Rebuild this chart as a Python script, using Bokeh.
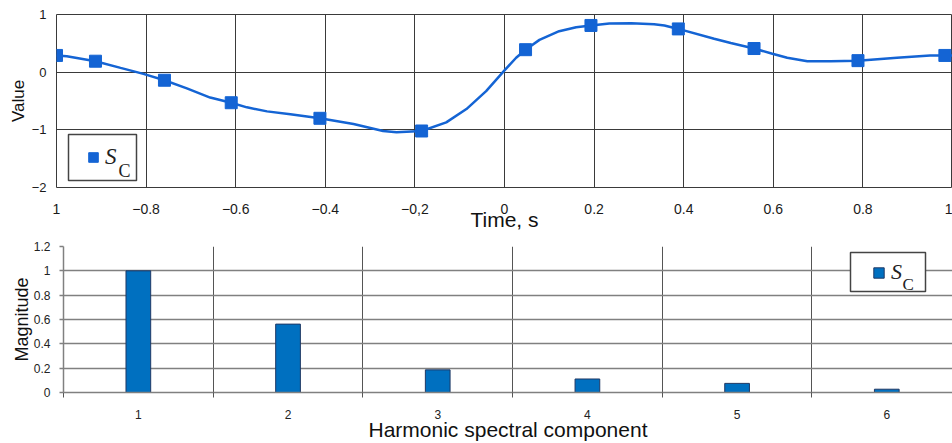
from bokeh.plotting import figure
from bokeh.models import FixedTicker, Legend, LegendItem, BoxAnnotation, Label
from bokeh.embed import file_html
from bokeh.resources import INLINE

# ---------------- data ----------------
# smooth signal curve
t_curve = [-1.0, -0.977, -0.913, -0.857, -0.806, -0.759, -0.709, -0.657, -0.610,
           -0.575, -0.530, -0.478, -0.412, -0.337, -0.271, -0.241, -0.185, -0.130,
           -0.085, -0.041, 0.0, 0.026, 0.047, 0.078, 0.122, 0.160, 0.193, 0.234,
           0.283, 0.334, 0.357, 0.388, 0.468, 0.505, 0.557, 0.598, 0.631, 0.676,
           0.728, 0.789, 0.876, 0.950, 0.983, 1.0]
v_curve = [0.29, 0.276, 0.19, 0.074, -0.03, -0.14, -0.28, -0.44, -0.53,
           -0.61, -0.68, -0.73, -0.80, -0.90, -1.02, -1.04, -1.02, -0.87,
           -0.64, -0.33, 0.03, 0.25, 0.39, 0.56, 0.71, 0.78, 0.81, 0.845,
           0.85, 0.83, 0.81, 0.75, 0.58, 0.505, 0.41, 0.32, 0.25, 0.19,
           0.19, 0.20, 0.25, 0.29, 0.29, 0.29]
# sampled points (square markers)
t_markers = [-1.0, -0.913, -0.759, -0.610, -0.412, -0.185, 0.047, 0.193, 0.388,
             0.557, 0.789, 0.983]
v_markers = [0.29, 0.19, -0.14, -0.53, -0.80, -1.02, 0.39, 0.81, 0.75,
             0.41, 0.20, 0.29]

time_ticks = [-1, -0.8, -0.6, -0.4, -0.2, 0, 0.2, 0.4, 0.6, 0.8, 1]
time_tick_labels = ["1", "\u22120.8", "\u22120.6", "\u22120.4", "\u22120,2", "0",
                    "0.2", "0.4", "0.6", "0.8", "1"]
value_ticks = [-2, -1, 0, 1]
value_tick_labels = ["\u22122", "\u22121", "0", "1"]

# harmonic spectrum
harmonics = [1, 2, 3, 4, 5, 6]
magnitudes = [1.0, 0.562, 0.186, 0.111, 0.075, 0.027]
mag_ticks = [0, 0.2, 0.4, 0.6, 0.8, 1, 1.2]
mag_tick_labels = ["0", "0.2", "0.4", "0.6", "0.8", "1", "1.2"]
category_edges = [0.5, 1.5, 2.5, 3.5, 4.5, 5.5, 6.5]

BLUE = "#1464d4"
BAR_BLUE = "#0070c0"
FONT = "Liberation Sans"
SERIF = "Liberation Serif"

# ---------------- top chart ----------------
p1 = figure(width=952, height=234, x_range=(-1, 1), y_range=(-2, 1),
            output_backend="svg", toolbar_location=None,
            min_border_left=56, min_border_right=0, min_border_top=14,
            min_border_bottom=47)
p1.background_fill_color = "white"
p1.border_fill_color = "white"
p1.outline_line_color = "#3a3a3a"
p1.outline_line_width = 1

p1.line(t_curve, v_curve, line_color=BLUE, line_width=2.5)
sc = p1.scatter(t_markers, v_markers, marker="square", size=12,
                fill_color=BLUE, line_color=BLUE)

xa = p1.xaxis[0]
xa.ticker = FixedTicker(ticks=time_ticks)
xa.major_label_overrides = dict(zip(time_ticks, time_tick_labels))
xa.major_tick_out = 0
xa.major_tick_in = 0
xa.minor_tick_out = 0
xa.minor_tick_in = 0
xa.axis_line_color = None
xa.major_label_standoff = 16
xa.major_label_text_font = FONT
xa.major_label_text_font_size = "14px"
xa.major_label_text_color = "#1a1a1a"
xa.axis_label = "Time, s"
xa.axis_label_text_font = FONT
xa.axis_label_text_font_size = "21px"
xa.axis_label_text_font_style = "normal"
xa.axis_label_text_color = "#111111"
xa.axis_label_standoff = -9

ya = p1.yaxis[0]
ya.ticker = FixedTicker(ticks=value_ticks)
ya.major_label_overrides = dict(zip(value_ticks, value_tick_labels))
ya.major_tick_out = 0
ya.major_tick_in = 0
ya.minor_tick_out = 0
ya.minor_tick_in = 0
ya.axis_line_color = None
ya.major_label_standoff = 10
ya.major_label_text_font = FONT
ya.major_label_text_font_size = "13px"
ya.major_label_text_color = "#1a1a1a"
ya.axis_label = "Value"
ya.axis_label_text_font = FONT
ya.axis_label_text_font_size = "17px"
ya.axis_label_text_font_style = "normal"
ya.axis_label_text_color = "#111111"
ya.axis_label_standoff = 1

p1.xgrid.ticker = FixedTicker(ticks=time_ticks)
p1.ygrid.ticker = FixedTicker(ticks=value_ticks)
p1.grid.grid_line_color = "#3a3a3a"
p1.grid.grid_line_width = 1

box1 = BoxAnnotation(left=12, right=80, bottom=7, top=53,
                     left_units="screen", right_units="screen",
                     bottom_units="screen", top_units="screen",
                     fill_color="white", fill_alpha=1,
                     line_color="#444444", line_width=1.5, line_alpha=1)
p1.add_layout(box1)
leg1 = Legend(items=[LegendItem(label="S", renderers=[sc])],
              location=(25, 17), padding=0, margin=0, spacing=0,
              border_line_color=None, background_fill_alpha=0,
              glyph_width=24, glyph_height=24, label_standoff=0,
              label_width=20,
              label_text_font=SERIF, label_text_font_style="italic",
              label_text_font_size="23px", label_text_color="#222222")
p1.add_layout(leg1)
p1.add_layout(Label(x=62, y=17, x_units="screen", y_units="screen", text="C",
                    text_font=SERIF, text_font_size="18px",
                    text_baseline="alphabetic", text_color="#222222"))

# ---------------- bottom chart ----------------
p2 = figure(width=952, height=209, x_range=(0.5, 6.439), y_range=(0, 1.2),
            output_backend="svg", toolbar_location=None,
            min_border_left=63, min_border_right=0, min_border_top=12,
            min_border_bottom=51)
p2.background_fill_color = "white"
p2.border_fill_color = "white"
p2.outline_line_color = None

bars = p2.vbar(x=harmonics, top=magnitudes, width=0.165,
               fill_color=BAR_BLUE, line_color="#1f3864", line_width=1)

xb = p2.xaxis[0]
xb.ticker = FixedTicker(ticks=harmonics, minor_ticks=category_edges)
xb.major_tick_out = 0
xb.major_tick_in = 0
xb.minor_tick_out = 5
xb.minor_tick_in = 0
xb.minor_tick_line_color = "#555555"
xb.minor_tick_line_width = 1
xb.axis_line_color = "#808080"
xb.axis_line_width = 1.5
xb.major_label_standoff = 12
xb.major_label_text_font = FONT
xb.major_label_text_font_size = "12px"
xb.major_label_text_color = "#222222"
xb.axis_label = "Harmonic spectral component"
xb.axis_label_text_font = FONT
xb.axis_label_text_font_size = "21px"
xb.axis_label_text_font_style = "normal"
xb.axis_label_text_color = "#111111"
xb.axis_label_standoff = -4

yb = p2.yaxis[0]
yb.ticker = FixedTicker(ticks=mag_ticks)
yb.major_label_overrides = dict(zip(mag_ticks, mag_tick_labels))
yb.major_tick_out = 4
yb.major_tick_in = 0
yb.minor_tick_out = 0
yb.minor_tick_in = 0
yb.major_tick_line_color = "#808080"
yb.major_tick_line_width = 1.5
yb.axis_line_color = "#808080"
yb.axis_line_width = 1.5
yb.major_label_standoff = 9
yb.major_label_text_font = FONT
yb.major_label_text_font_size = "12px"
yb.major_label_text_color = "#222222"
yb.axis_label = "Magnitude"
yb.axis_label_text_font = FONT
yb.axis_label_text_font_size = "18px"
yb.axis_label_text_font_style = "normal"
yb.axis_label_text_color = "#111111"
yb.axis_label_standoff = -1

p2.xgrid.ticker = FixedTicker(ticks=category_edges[1:-1])
p2.xgrid.grid_line_color = "#555555"
p2.xgrid.grid_line_width = 1
p2.ygrid.ticker = FixedTicker(ticks=mag_ticks)
p2.ygrid.grid_line_color = "#808080"
p2.ygrid.grid_line_width = 1.5

box2 = BoxAnnotation(left=787, right=862, bottom=101, top=140,
                     left_units="screen", right_units="screen",
                     bottom_units="screen", top_units="screen",
                     fill_color="white", fill_alpha=1,
                     line_color="#444444", line_width=1.5, line_alpha=1)
p2.add_layout(box2)
leg2 = Legend(items=[LegendItem(label="S", renderers=[bars])],
              location=(809, 107), padding=0, margin=0, spacing=0,
              border_line_color=None, background_fill_alpha=0,
              glyph_width=13, glyph_height=13, label_standoff=6,
              label_width=20,
              label_text_font=SERIF, label_text_font_style="italic",
              label_text_font_size="22px", label_text_color="#222222")
p2.add_layout(leg2)
p2.add_layout(Label(x=839, y=108, x_units="screen", y_units="screen", text="C",
                    text_font=SERIF, text_font_size="17px",
                    text_baseline="alphabetic", text_color="#222222"))

open("out.html", "w").write(file_html([p1, p2], INLINE))
